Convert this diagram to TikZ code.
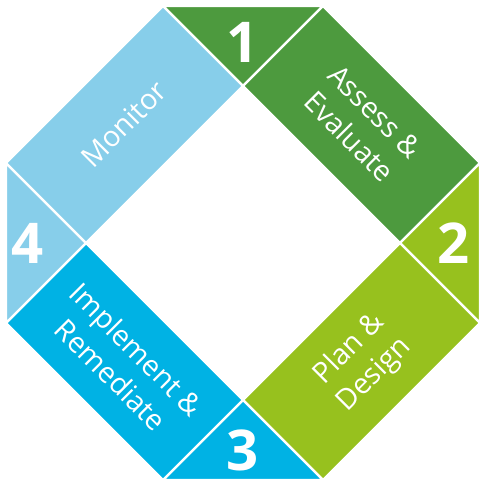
\documentclass[tikz,border=0pt]{standalone}
\usepackage{fontspec}
\setmainfont{Open Sans}
\usepackage{tikz}
\usetikzlibrary{positioning}
\definecolor{AssessGreen}{RGB}{77,154,62}
\definecolor{PlanGreen}{RGB}{151,193,30}
\definecolor{RemedyBlue}{RGB}{0,178,228}
\definecolor{MonitorBlue}{RGB}{135,206,234}

\begin{document}
\begin{tikzpicture}[x=0.02cm, y=0.02cm,
    segment/.style={draw=white, line width=1.4pt, line join=miter},
    number/.style={text=white, font=\fontsize{32}{32}\selectfont\bfseries},
    phase/.style={text=white, align=center, font=\fontsize{16.3}{20.5}\selectfont}
]
    \useasboundingbox (-243,-240) rectangle (238,243);

    % outer octagon
    \coordinate (o1) at (-80,237);
    \coordinate (o2) at (80,237);
    \coordinate (o3) at (237,80);
    \coordinate (o4) at (237,-80);
    \coordinate (o5) at (80,-237);
    \coordinate (o6) at (-80,-237);
    \coordinate (o7) at (-237,-80);
    \coordinate (o8) at (-237,80);
    % inner diamond
    \coordinate (n) at (0,157);
    \coordinate (e) at (157,0);
    \coordinate (s) at (0,-157);
    \coordinate (w) at (-157,0);

    % 1 - assess
    \filldraw[segment, fill=AssessGreen] (o1) -- (o2) -- (n) -- cycle;
    \filldraw[segment, fill=AssessGreen] (o2) -- (o3) -- (e) -- (n) -- cycle;
    % 2 - plan
    \filldraw[segment, fill=PlanGreen] (o3) -- (o4) -- (e) -- cycle;
    \filldraw[segment, fill=PlanGreen] (o4) -- (o5) -- (s) -- (e) -- cycle;
    % 3 - implement
    \filldraw[segment, fill=RemedyBlue] (o5) -- (o6) -- (s) -- cycle;
    \filldraw[segment, fill=RemedyBlue] (o6) -- (o7) -- (w) -- (s) -- cycle;
    % 4 - monitor
    \filldraw[segment, fill=MonitorBlue] (o7) -- (o8) -- (w) -- cycle;
    \filldraw[segment, fill=MonitorBlue] (o8) -- (o1) -- (n) -- (w) -- cycle;

    \node[number] (num1) at (0,201) {1};
    \node[number] (num2) at (211,0) {2};
    \node[number] (num3) at (0,-207) {3};
    \node[number] (num4) at (-215,0) {4};

    \node[phase, rotate=-45] (assess) at (119,119) {Assess \&\\Evaluate};
    \node[phase, rotate=45] (plan) at (119,-119) {Plan \&\\Design};
    \node[phase, rotate=-45] (implement) at (-119,-119) {Implement \&\\Remediate};
    \node[phase, rotate=45] (monitor) at (-119,119) {Monitor};
\end{tikzpicture}
\end{document}
